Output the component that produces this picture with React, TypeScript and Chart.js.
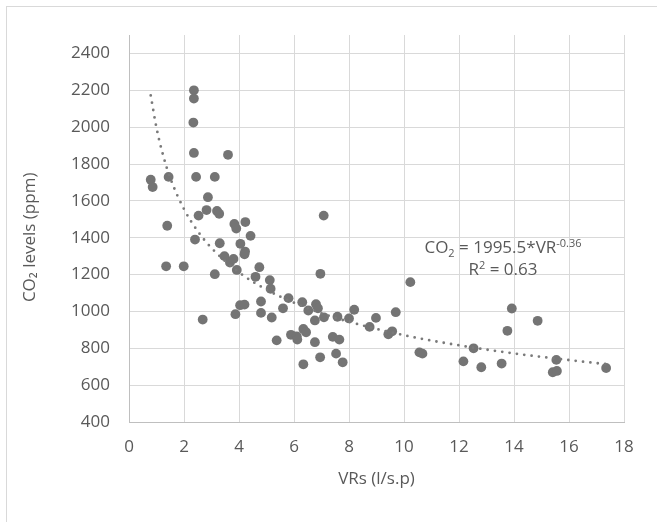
import React, { useEffect, useRef } from "react";
import { Chart, registerables } from "chart.js";

Chart.register(...registerables);

// Measured points: ventilation rate (l/s.p) and CO2 level (ppm)
const vrValues = [
  0.79, 0.86, 1.35, 1.39, 1.44, 1.99, 2.34, 2.36, 2.36, 2.36, 2.4, 2.44, 2.53, 2.68, 2.82, 2.87,
  3.12, 3.12, 3.2, 3.28, 3.3, 3.47, 3.6, 3.67, 3.8, 3.83, 3.87, 3.9, 3.92, 4.04, 4.05, 4.2,
  4.22, 4.2, 4.23, 4.42, 4.6, 4.74, 4.8, 4.8, 5.12, 5.15, 5.19, 5.37, 5.6, 5.8, 5.89, 6.1,
  6.12, 6.3, 6.34, 6.34, 6.44, 6.52, 6.76, 6.76, 6.8, 6.87, 6.95, 6.96, 7.08, 7.09, 7.41, 7.53,
  7.58, 7.65, 7.77, 8.0, 8.19, 8.75, 8.98, 9.43, 9.57, 9.7, 10.23, 10.56, 10.67, 12.16, 12.53, 12.81,
  13.55, 13.76, 13.92, 14.86, 15.41, 15.54, 15.56, 17.35,
];
const co2Values = [
  1715, 1675, 1245, 1465, 1730, 1245, 2025, 2200, 2155, 1860, 1390, 1730, 1520, 956, 1550, 1620,
  1730, 1202, 1545, 1530, 1370, 1300, 1850, 1265, 1285, 1475, 985, 1450, 1225, 1034, 1367, 1037,
  1325, 1310, 1485, 1410, 1188, 1240, 1054, 992, 1170, 1123, 967, 843, 1017, 1072, 873, 865,
  847, 1050, 905, 713, 887, 1005, 951, 833, 1039, 1017, 751, 1204, 1520, 968, 862, 771,
  971, 847, 724, 962, 1009, 916, 965, 876, 892, 996, 1159, 778, 771, 729, 800, 697,
  717, 895, 1016, 949, 670, 737, 677, 693,
];

// Power trendline
const trendVR = [0.79, 1, 1.25, 1.5, 2, 2.5, 3, 4, 5, 6, 7, 8, 10, 12, 14, 16, 17.35];
const trendCO2 = [2172, 1996, 1842, 1724, 1555, 1435, 1344, 1212, 1118, 1047, 990, 944, 871, 816, 772, 736, 714];

const xTicks = [0, 2, 4, 6, 8, 10, 12, 14, 16, 18];
const yTicks = [400, 600, 800, 1000, 1200, 1400, 1600, 1800, 2000, 2200, 2400];

const xTitle = "VRs (l/s.p)";
const yTitle = "CO\u2082 levels (ppm)    ";
const eqParts = [
  { t: "CO", k: "n" },
  { t: "2", k: "sub" },
  { t: " = 1995.5*VR", k: "n" },
  { t: "-0.36", k: "sup" },
];
const r2Parts = [
  { t: "R", k: "n" },
  { t: "2", k: "sup" },
  { t: " = 0.63", k: "n" },
];

const FONT = "'Open Sans', 'Liberation Sans', sans-serif";
const TEXT = "#595959";
const MARK = "#747474";

const eqPlugin = {
  id: "eqnLabel",
  afterDatasetsDraw(chart: any) {
    const { ctx, scales } = chart;
    const cx = scales.x.getPixelForValue(13.6);
    const lines = [
      { parts: eqParts, yv: 1317 },
      { parts: r2Parts, yv: 1195 },
    ];
    const base = 17;
    const small = 11;
    ctx.save();
    ctx.fillStyle = TEXT;
    ctx.textBaseline = "alphabetic";
    ctx.textAlign = "left";
    for (const line of lines) {
      const by = scales.y.getPixelForValue(line.yv);
      let w = 0;
      const widths = line.parts.map((p: any) => {
        ctx.font = `${p.k === "n" ? base : small}px ${FONT}`;
        const m = ctx.measureText(p.t).width;
        w += m;
        return m;
      });
      let x = cx - w / 2;
      line.parts.forEach((p: any, i: number) => {
        ctx.font = `${p.k === "n" ? base : small}px ${FONT}`;
        let dy = 0;
        if (p.k === "sub") dy = 3.5;
        if (p.k === "sup") dy = -6.5;
        ctx.fillText(p.t, x, by + dy);
        x += widths[i];
      });
    }
    ctx.restore();
  },
};

export default function App() {
  const ref = useRef<HTMLCanvasElement | null>(null);

  useEffect(() => {
    if (!ref.current) return;
    const points = vrValues.map((v, i) => ({ x: v, y: co2Values[i] }));
    const trend = trendVR.map((v, i) => ({ x: v, y: trendCO2[i] }));
    const chart = new Chart(ref.current, {
      type: "scatter",
      data: {
        datasets: [
          {
            type: "line",
            label: "Trend",
            data: trend,
            borderColor: "#7a7a7a",
            borderWidth: 2.8,
            borderDash: [0, 7.4],
            borderCapStyle: "round",
            pointRadius: 0,
            fill: false,
            cubicInterpolationMode: "monotone",
            order: 0,
          } as any,
          {
            label: "CO2",
            data: points,
            backgroundColor: MARK,
            borderColor: MARK,
            borderWidth: 0,
            pointRadius: 4.9,
            order: 1,
          },
        ],
      },
      options: {
        animation: false,
        responsive: false,
        maintainAspectRatio: false,
        layout: { padding: { left: 0, right: 33, top: 35, bottom: 0 } },
        plugins: { legend: { display: false }, tooltip: { enabled: false } },
        scales: {
          x: {
            type: "linear",
            min: 0,
            max: 18,
            afterBuildTicks: (s: any) => {
              s.ticks = xTicks.map((v) => ({ value: v }));
            },
            afterFit: (s: any) => {
              s.height = 100;
            },
            grid: {
              color: (c: any) => (c.tick && c.tick.value === 0 ? "#bfbfbf" : "#d9d9d9"),
              lineWidth: 1,
              drawTicks: false,
            },
            border: { display: true, color: "#bfbfbf", width: 1 },
            ticks: {
              color: TEXT,
              font: { family: FONT, size: 17 },
              padding: 15,
              maxRotation: 0,
              callback: (v: any) => String(v),
            },
            title: {
              display: true,
              text: xTitle,
              color: TEXT,
              font: { family: FONT, size: 17 },
              padding: { top: 0, bottom: 33 },
            },
          },
          y: {
            type: "linear",
            min: 400,
            max: 2500,
            afterBuildTicks: (s: any) => {
              s.ticks = yTicks.map((v) => ({ value: v }));
            },
            afterFit: (s: any) => {
              s.width = 129;
            },
            grid: {
              color: (c: any) => (c.tick && c.tick.value === 400 ? "#bfbfbf" : "#d9d9d9"),
              lineWidth: 1,
              drawTicks: false,
            },
            border: { display: true, color: "#bfbfbf", width: 1 },
            ticks: {
              color: TEXT,
              font: { family: FONT, size: 17 },
              padding: 19,
              callback: (v: any) => String(v),
            },
            title: {
              display: true,
              text: yTitle,
              color: TEXT,
              font: { family: FONT, size: 17 },
              padding: { top: 20, bottom: 0 },
            },
          },
        },
      },
      plugins: [eqPlugin],
    });
    return () => chart.destroy();
  }, []);

  return (
    <div style={{ position: "fixed", left: 0, top: 0, width: 657, height: 522, background: "#fff", overflow: "hidden" }}>
      <div
        style={{
          position: "absolute",
          left: 6,
          top: 6,
          width: 720,
          height: 600,
          border: "1px solid #d9d9d9",
          boxSizing: "border-box",
        }}
      />
      <canvas ref={ref} width={657} height={522} style={{ position: "absolute", left: 0, top: 0, width: 657, height: 522 }} />
    </div>
  );
}
